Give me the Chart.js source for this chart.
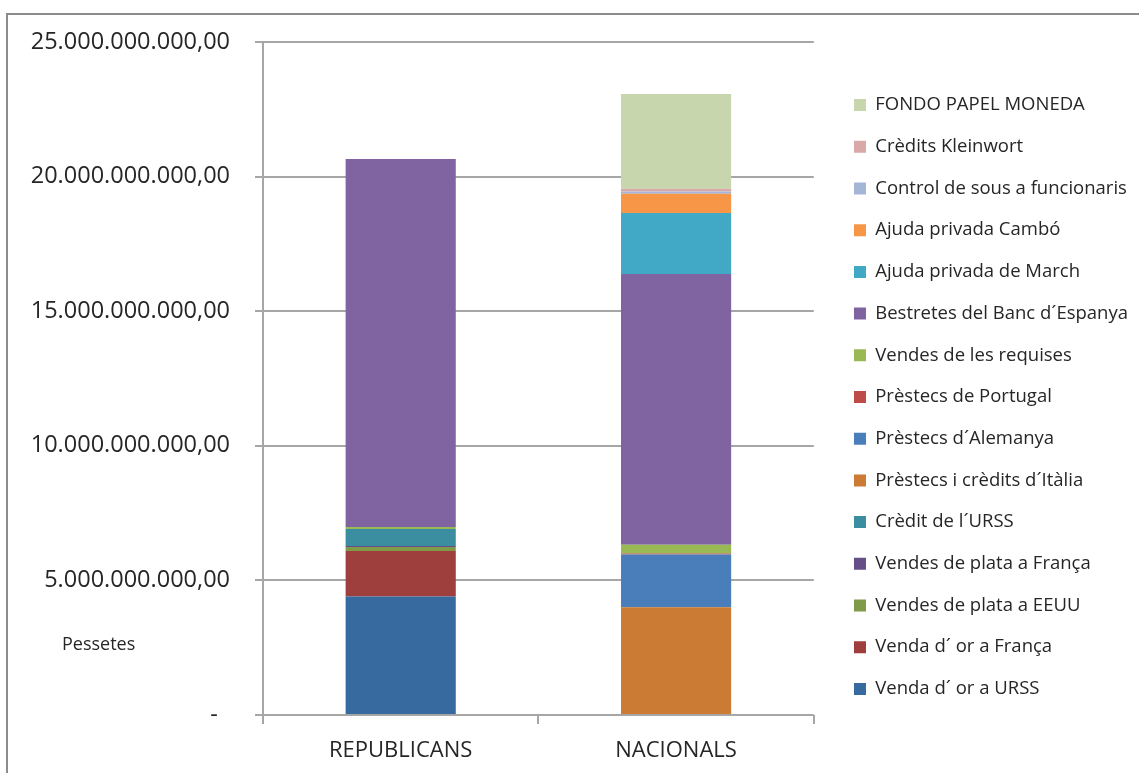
<!DOCTYPE html>
<html>
<head>
<meta charset="utf-8">
<script src="https://cdn.jsdelivr.net/npm/chart.js@4"></script>
<style>
  body { margin: 0; background: #fff; }
  #wrap { position: absolute; left: 6px; top: 13px; width: 1133px; height: 760px;
          border-left: 2px solid #8c8c8c; border-top: 2px solid #8c8c8c; }
</style>
</head>
<body>
<div id="wrap"><canvas id="chart"></canvas></div>
<script>
const categories = ['REPUBLICANS', 'NACIONALS'];

const seriesNames = [
    'Venda d´ or a URSS',
    'Venda d´ or a França',
    'Vendes de plata a EEUU',
    'Vendes de plata a França',
    'Crèdit de l´URSS',
    'Prèstecs i crèdits d´Itàlia',
    'Prèstecs d´Alemanya',
    'Prèstecs de Portugal',
    'Vendes de les requises',
    'Bestretes del Banc d´Espanya',
    'Ajuda privada de March',
    'Ajuda privada Cambó',
    'Control de sous a funcionaris',
    'Crèdits Kleinwort',
    'FONDO PAPEL MONEDA'
];

// values per series, in the order of seriesNames
const republicansValues = [4.40e9, 1.69e9, 0.15e9, 0.04e9, 0.63e9, 0, 0, 0, 0.07e9, 13.67e9, 0, 0, 0, 0, 0];
const nacionalsValues   = [0, 0, 0, 0, 0, 4.00e9, 1.96e9, 0.04e9, 0.32e9, 10.06e9, 2.27e9, 0.71e9, 0.09e9, 0.10e9, 3.52e9];

const seriesColors = [
    '#376A9F', '#9E3F3D', '#7F9A48', '#664F87', '#3A8EA0',
    '#CC7B35', '#4A7EBB', '#BE4B48', '#98B954', '#8064A2',
    '#41A9C6', '#F79646', '#A5B5D7', '#D9A9A8', '#C7D6AD'
];

const yTickLabels = ['-  ', '5.000.000.000,00', '10.000.000.000,00', '15.000.000.000,00', '20.000.000.000,00', '25.000.000.000,00'];

const FONT = "'Open Sans', sans-serif";
const TEXT = '#262626';

const datasets = seriesNames.map((name, i) => ({
    label: name,
    data: [republicansValues[i], nacionalsValues[i]],
    backgroundColor: seriesColors[i],
    borderWidth: 0,
    barPercentage: 0.4,
    categoryPercentage: 1.0
}));

// axis title drawn as plain text left of the axis
const pessetesLabel = {
    id: 'pessetesLabel',
    afterDraw(chart) {
        const ctx = chart.ctx;
        ctx.save();
        ctx.font = '18px ' + FONT;
        ctx.fillStyle = TEXT;
        ctx.textBaseline = 'middle';
        ctx.fillText('Pessetes', 54, 630);
        ctx.restore();
    }
};

new Chart(document.getElementById('chart'), {
    type: 'bar',
    data: { labels: categories, datasets: datasets },
    options: {
        responsive: true,
        maintainAspectRatio: false,
        animation: false,
        layout: { padding: { top: 16, bottom: 12, left: 0, right: 3 } },
        plugins: {
            tooltip: { enabled: false },
            legend: {
                position: 'right',
                reverse: true,
                maxWidth: 308,
                labels: {
                    boxWidth: 12,
                    boxHeight: 12,
                    padding: 23.2,
                    color: TEXT,
                    font: { family: FONT, size: 18.5 }
                }
            }
        },
        scales: {
            x: {
                stacked: true,
                grid: { display: true, drawOnChartArea: false, offset: true, tickLength: 9, color: '#a6a6a6', lineWidth: 2 },
                border: { display: false },
                ticks: { color: TEXT, padding: 14, font: { family: FONT, size: 22 } },
                afterFit: s => { s.height = 48; }
            },
            y: {
                stacked: true,
                min: 0,
                max: 25e9,
                ticks: {
                    stepSize: 5e9,
                    padding: 25,
                    color: TEXT,
                    font: { family: FONT, size: 23.5 },
                    callback: (v, i) => yTickLabels[i]
                },
                grid: { color: '#a6a6a6', lineWidth: 2, tickLength: 8 },
                border: { display: true, color: '#a6a6a6', width: 2 },
                afterFit: s => { s.width = 255; s.paddingTop = 27; s.paddingBottom = 0; }
            },
            spacer: {
                type: 'linear',
                position: 'right',
                display: true,
                grid: { display: false },
                border: { display: false },
                ticks: { display: false },
                afterFit: s => { s.width = 17; }
            }
        }
    },
    plugins: [pessetesLabel]
});
</script>
</body>
</html>
